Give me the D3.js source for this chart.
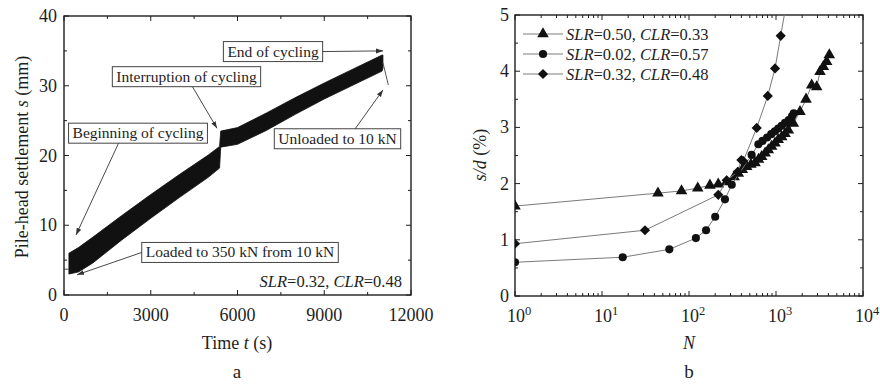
<!DOCTYPE html>
<html>
<head>
<meta charset="utf-8">
<script src="https://cdn.jsdelivr.net/npm/d3@7"></script>
<style>
  body { margin: 0; background: #fff; }
  svg { font-family: "Liberation Serif", "DejaVu Serif", serif; }
</style>
</head>
<body>
<svg id="chart" width="880" height="385"></svg>
<script>
// ---- panel a: pile-head settlement vs time (cycling band) ----
const bandT     = [170, 500, 1000, 2000, 3000, 4000, 5000, 5380, 5420, 6000, 7000, 8000, 9000, 10000, 11000, 11030];
const bandUpper = [6.0, 6.8, 8.3, 11.4, 14.4, 17.3, 20.1, 21.3, 23.5, 24.0, 26.1, 28.3, 30.4, 32.4, 34.4, 34.4];
const bandLower = [3.0, 3.3, 4.6, 7.9, 11.0, 14.0, 16.9, 18.2, 21.2, 21.6, 23.6, 25.9, 28.1, 30.1, 32.1, 32.5];
const preT = [0, 170];
const preS = [3.7, 3.7];
const unloadT = [11030, 11216];
const unloadS = [33.3, 30.1];

const timeTicks = [0, 3000, 6000, 9000, 12000];
const settleTicks = [0, 10, 20, 30, 40];

// annotation boxes: label, box centre (t, s), arrow start as fraction of box, arrow end (t, s)
const notes = [
  { text: "End of cycling",              c: [7228, 34.9], at: [1, 0.5],    to: [11032, 35.0] },
  { text: "Interruption of cycling",     c: [4236, 31.3], at: [0.54, 1],   to: [5291, 23.9] },
  { text: "Beginning of cycling",        c: [2559, 23.2], at: [0.36, 1],   to: [415, 8.6] },
  { text: "Unloaded to 10 kN",           c: [9458, 22.4], at: [0.64, 0],   to: [11032, 29.4] },
  { text: "Loaded to 350 kN from 10 kN", c: [6087, 6.1],  at: [0, 0.5],    to: [450, 2.9] }
];

// ---- panel b: s/d vs N ----
const triN = [1, 44, 82, 126, 174, 217, 271, 330, 369, 410, 460, 515, 574, 630, 684, 750, 816, 890, 974, 1060, 1162, 1270, 1386, 1584, 1888, 2213, 2572, 2936, 3206, 3500, 3822, 4100];
const triY = [1.6, 1.83, 1.87, 1.92, 1.97, 1.99, 2.03, 2.12, 2.18, 2.25, 2.3, 2.34, 2.37, 2.43, 2.48, 2.54, 2.6, 2.66, 2.72, 2.78, 2.83, 2.89, 2.95, 3.07, 3.28, 3.5, 3.75, 3.72, 3.99, 4.08, 4.17, 4.29];
const cirN = [1, 17.3, 59.4, 120, 157, 200, 259, 310, 525, 627, 700, 790, 880, 970, 1060, 1160, 1270, 1400, 1530, 1600];
const cirY = [0.6, 0.69, 0.83, 1.03, 1.17, 1.41, 1.72, 1.98, 2.51, 2.7, 2.76, 2.82, 2.88, 2.93, 2.98, 3.03, 3.08, 3.13, 3.2, 3.25];
const diaN = [1, 31.2, 217, 271, 363, 400, 420, 600, 804, 975, 1133, 1400];
const diaY = [0.93, 1.17, 1.8, 2.06, 2.21, 2.42, 2.4, 2.99, 3.56, 4.05, 4.63, 5.45];

const seriesB = [
  { slr: "0.50", clr: "0.33", N: triN, y: triY, sym: d3.symbolTriangle, size: 58, rot: 0 },
  { slr: "0.02", clr: "0.57", N: cirN, y: cirY, sym: d3.symbolCircle,   size: 52, rot: 0 },
  { slr: "0.32", clr: "0.48", N: diaN, y: diaY, sym: d3.symbolSquare,   size: 52, rot: 45 }
];
const nTicks = [1, 10, 100, 1000, 10000];
const sdTicks = [0, 1, 2, 3, 4, 5];

const svg = d3.select("#chart");
const ink = "#1e1e1e";

// ---------- panel a ----------
const xa = d3.scaleLinear().domain([0, 12000]).range([64, 411]);
const ya = d3.scaleLinear().domain([0, 40]).range([295, 16]);

function frame(g, x, y, xMinor, yMinor, xMajor, yMajor) {
  const [x0, x1] = x.range(), [y0, y1] = y.range();
  const t = g.append("g").attr("stroke", ink).attr("stroke-width", 1);
  xMinor.forEach(v => {
    t.append("line").attr("x1", x(v)).attr("x2", x(v)).attr("y1", y0).attr("y2", y0 - 3);
    t.append("line").attr("x1", x(v)).attr("x2", x(v)).attr("y1", y1).attr("y2", y1 + 3);
  });
  xMajor.forEach(v => {
    t.append("line").attr("x1", x(v)).attr("x2", x(v)).attr("y1", y0).attr("y2", y0 - 5);
    t.append("line").attr("x1", x(v)).attr("x2", x(v)).attr("y1", y1).attr("y2", y1 + 5);
  });
  yMinor.forEach(v => {
    t.append("line").attr("y1", y(v)).attr("y2", y(v)).attr("x1", x0).attr("x2", x0 + 3);
    t.append("line").attr("y1", y(v)).attr("y2", y(v)).attr("x1", x1).attr("x2", x1 - 3);
  });
  yMajor.forEach(v => {
    t.append("line").attr("y1", y(v)).attr("y2", y(v)).attr("x1", x0).attr("x2", x0 + 5);
    t.append("line").attr("y1", y(v)).attr("y2", y(v)).attr("x1", x1).attr("x2", x1 - 5);
  });
  g.append("rect").attr("x", x0).attr("y", y1).attr("width", x1 - x0).attr("height", y0 - y1)
    .attr("fill", "none").attr("stroke", ink).attr("stroke-width", 1.4);
}

const ga = svg.append("g");

const bandData = bandT.map((t, i) => ({ t, u: bandUpper[i], l: bandLower[i] }));
ga.append("path")
  .datum(bandData)
  .attr("fill", "#111").attr("stroke", "#111").attr("stroke-width", 0.8)
  .attr("d", d3.area().x(d => xa(d.t)).y0(d => ya(d.l)).y1(d => ya(d.u)));

const lineA = d3.line().x(d => xa(d[0])).y(d => ya(d[1]));
ga.append("path").datum(preT.map((t, i) => [t, preS[i]]))
  .attr("fill", "none").attr("stroke", "#555").attr("d", lineA);
ga.append("path").datum(unloadT.map((t, i) => [t, unloadS[i]]))
  .attr("fill", "none").attr("stroke", "#555").attr("d", lineA);

frame(ga, xa, ya, d3.range(1500, 12000, 3000), d3.range(5, 40, 10), timeTicks, settleTicks);

ga.selectAll(".xl").data(timeTicks).join("text")
  .attr("x", d => xa(d)).attr("y", 321).attr("text-anchor", "middle")
  .attr("font-size", 18).attr("fill", ink).text(d => d);
ga.selectAll(".yl").data(settleTicks).join("text")
  .attr("x", 57).attr("y", d => ya(d) + 6).attr("text-anchor", "end")
  .attr("font-size", 18).attr("fill", ink).text(d => d);

// arrowhead
svg.append("defs").append("marker")
  .attr("id", "ah").attr("viewBox", "0 0 10 10").attr("refX", 10).attr("refY", 5)
  .attr("markerWidth", 7).attr("markerHeight", 7).attr("orient", "auto")
  .attr("markerUnits", "userSpaceOnUse")
  .append("path").attr("d", "M0,1.5 L10,5 L0,8.5 Z").attr("fill", "#333");

notes.forEach(n => {
  const cx = xa(n.c[0]), cy = ya(n.c[1]);
  const txt = ga.append("text")
    .attr("x", cx).attr("y", cy + 5)
    .attr("text-anchor", "middle").attr("font-size", 15.5).attr("fill", ink).text(n.text);
  const w = txt.node().getComputedTextLength() + 8, h = 20;
  const bx = cx - w / 2, by = cy - h / 2;
  ga.insert("rect", () => txt.node())
    .attr("x", bx).attr("y", by).attr("width", w).attr("height", h)
    .attr("fill", "#fff").attr("stroke", "#444").attr("stroke-width", 1);
  ga.append("line")
    .attr("x1", bx + n.at[0] * w).attr("y1", by + n.at[1] * h)
    .attr("x2", xa(n.to[0])).attr("y2", ya(n.to[1]))
    .attr("stroke", "#333").attr("stroke-width", 0.9).attr("marker-end", "url(#ah)");
});

const slrA = ga.append("text").attr("x", 402).attr("y", 287).attr("text-anchor", "end")
  .attr("font-size", 16.5).attr("fill", ink);
slrA.append("tspan").attr("font-style", "italic").text("SLR");
slrA.append("tspan").text("=0.32, ");
slrA.append("tspan").attr("font-style", "italic").text("CLR");
slrA.append("tspan").text("=0.48");

const yLabA = ga.append("text").attr("transform", "translate(28,157) rotate(-90)")
  .attr("text-anchor", "middle").attr("font-size", 18).attr("fill", ink);
yLabA.append("tspan").text("Pile-head settlement ");
yLabA.append("tspan").attr("font-style", "italic").text("s");
yLabA.append("tspan").text(" (mm)");

const xLabA = ga.append("text").attr("x", 237).attr("y", 349).attr("text-anchor", "middle")
  .attr("font-size", 18).attr("fill", ink);
xLabA.append("tspan").text("Time ");
xLabA.append("tspan").attr("font-style", "italic").text("t");
xLabA.append("tspan").text(" (s)");

ga.append("text").attr("x", 237).attr("y", 378).attr("text-anchor", "middle")
  .attr("font-size", 19).attr("fill", ink).text("a");

// ---------- panel b ----------
const xb = d3.scaleLog().domain([1, 10000]).range([515, 863]);
const yb = d3.scaleLinear().domain([0, 5]).range([296, 15]);
const gb = svg.append("g");

gb.append("clipPath").attr("id", "clipb").append("rect")
  .attr("x", 515).attr("y", 15).attr("width", 348).attr("height", 281);

const logMinor = [];
[1, 10, 100, 1000].forEach(p => d3.range(2, 10).forEach(k => logMinor.push(p * k)));
frame(gb, xb, yb, logMinor, d3.range(0.5, 5, 1), nTicks, sdTicks);

const lineB = d3.line().x(d => xb(d[0])).y(d => yb(d[1]));
seriesB.forEach(s => {
  const pts = s.N.map((n, i) => [n, s.y[i]]);
  const g = gb.append("g").attr("clip-path", "url(#clipb)");
  g.append("path").datum(pts).attr("fill", "none").attr("stroke", "#7a7a7a")
    .attr("stroke-width", 1).attr("d", lineB);
  g.selectAll("path.m").data(pts).join("path").attr("class", "m")
    .attr("transform", d => `translate(${xb(d[0])},${yb(d[1])}) rotate(${s.rot})`)
    .attr("d", d3.symbol().type(s.sym).size(s.size)).attr("fill", "#111");
});

// legend
seriesB.forEach((s, i) => {
  const y = 34 + i * 20;
  gb.append("line").attr("x1", 523).attr("x2", 563).attr("y1", y).attr("y2", y)
    .attr("stroke", "#7a7a7a");
  gb.append("path").attr("transform", `translate(543,${y}) rotate(${s.rot})`)
    .attr("d", d3.symbol().type(s.sym).size(s.size)).attr("fill", "#111");
  const t = gb.append("text").attr("x", 566).attr("y", y + 5.5).attr("font-size", 16.5).attr("fill", ink);
  t.append("tspan").attr("font-style", "italic").text("SLR");
  t.append("tspan").text("=" + s.slr + ", ");
  t.append("tspan").attr("font-style", "italic").text("CLR");
  t.append("tspan").text("=" + s.clr);
});

gb.selectAll(".xl").data(nTicks).join("text")
  .attr("x", d => xb(d) + 4).attr("y", 322).attr("text-anchor", "middle")
  .attr("font-size", 18).attr("fill", ink)
  .each(function (d) {
    const t = d3.select(this);
    t.append("tspan").text("10");
    t.append("tspan").attr("dy", -7).attr("font-size", 12.5).text(Math.round(Math.log10(d)));
  });
gb.selectAll(".yl").data(sdTicks).join("text")
  .attr("x", 509).attr("y", d => yb(d) + 6).attr("text-anchor", "end")
  .attr("font-size", 18).attr("fill", ink).text(d => d);

const yLabB = gb.append("text").attr("transform", "translate(486,155) rotate(-90)")
  .attr("text-anchor", "middle").attr("font-size", 18).attr("fill", ink);
yLabB.append("tspan").attr("font-style", "italic").text("s/d");
yLabB.append("tspan").text(" (%)");

gb.append("text").attr("x", 689).attr("y", 349).attr("text-anchor", "middle")
  .attr("font-size", 18).attr("font-style", "italic").attr("fill", ink).text("N");
gb.append("text").attr("x", 689).attr("y", 378).attr("text-anchor", "middle")
  .attr("font-size", 19).attr("fill", ink).text("b");
</script>
</body>
</html>
